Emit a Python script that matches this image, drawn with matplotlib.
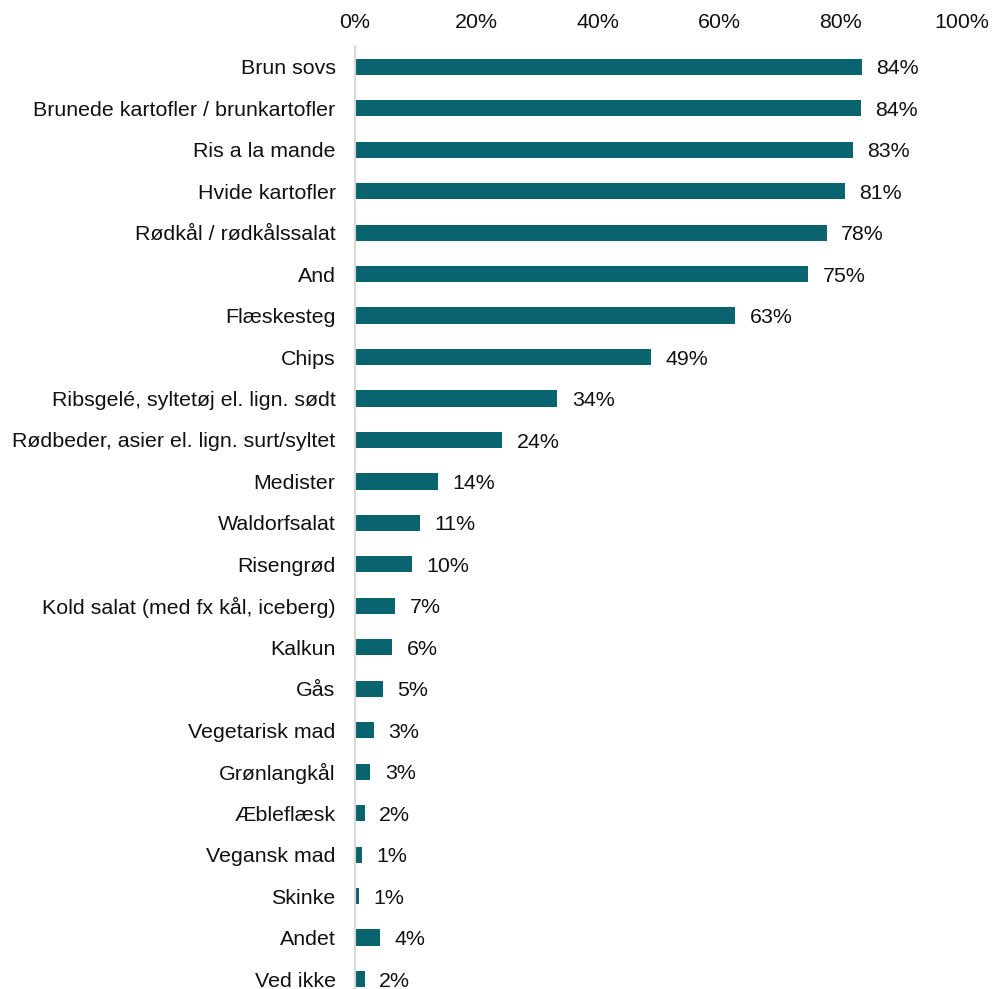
import matplotlib.pyplot as plt

plt.rcParams['font.family'] = ['Liberation Sans', 'DejaVu Sans']

kategorier = [
    "Brun sovs",
    "Brunede kartofler / brunkartofler",
    "Ris a la mande",
    "Hvide kartofler",
    "Rødkål / rødkålssalat",
    "And",
    "Flæskesteg",
    "Chips",
    "Ribsgelé, syltetøj el. lign. sødt",
    "Rødbeder, asier el. lign. surt/syltet",
    "Medister",
    "Waldorfsalat",
    "Risengrød",
    "Kold salat (med fx kål, iceberg)",
    "Kalkun",
    "Gås",
    "Vegetarisk mad",
    "Grønlangkål",
    "Æbleflæsk",
    "Vegansk mad",
    "Skinke",
    "Andet",
    "Ved ikke",
]

# andele (0-1)
andele = [0.835, 0.833, 0.82, 0.807, 0.777, 0.746, 0.626, 0.487, 0.333, 0.242,
          0.137, 0.107, 0.094, 0.066, 0.061, 0.046, 0.031, 0.025, 0.016, 0.012,
          0.007, 0.041, 0.016]

etiketter = ["84%", "84%", "83%", "81%", "78%", "75%", "63%", "49%", "34%", "24%",
             "14%", "11%", "10%", "7%", "6%", "5%", "3%", "3%", "2%", "1%",
             "1%", "4%", "2%"]

fs = 15.4

fig = plt.figure(figsize=(10.03, 9.89), dpi=100)
ax = fig.add_axes([355 / 1003, 0, (962 - 355) / 1003, (989 - 46) / 989])

y = list(range(len(kategorier)))
ax.barh(y, andele, height=0.39, color="#0A6470")

for i, (v, t) in enumerate(zip(andele, etiketter)):
    ax.text(v + 0.024, i + 0.05, t, va="center", ha="left", fontsize=fs, color="#111111")

ax.set_xlim(0, 1)
ax.set_ylim(22.24, -0.5)
ax.set_yticks(y)
ax.set_yticklabels(kategorier, fontsize=fs, color="#111111")
ax.set_xticks([0, 0.2, 0.4, 0.6, 0.8, 1.0])
ax.set_xticklabels(["0%", "20%", "40%", "60%", "80%", "100%"], fontsize=fs, color="#111111")
ax.xaxis.tick_top()
ax.tick_params(axis="both", length=0)
ax.tick_params(axis="x", pad=10)
ax.tick_params(axis="y", pad=14)

for s in ["top", "right", "bottom"]:
    ax.spines[s].set_visible(False)
ax.spines["left"].set_color("#D9D9D9")
ax.spines["left"].set_linewidth(1.5)

fig.savefig("out.png", dpi=100)
